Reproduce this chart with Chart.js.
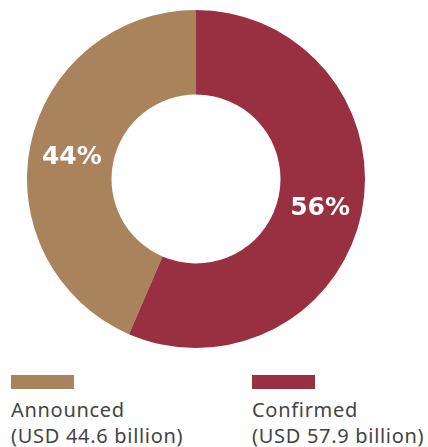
<!DOCTYPE html>
<html>
<head>
<meta charset="utf-8">
<script src="https://cdn.jsdelivr.net/npm/chart.js@4"></script>
<style>
  body { margin: 0; background: #fff; width: 428px; height: 447px; position: relative; overflow: hidden; }
  #wrap { position: absolute; left: 27px; top: 10px; width: 338px; height: 338px; }
  .legend { position: absolute; top: 375px; font-family: "Noto Sans", sans-serif; font-size: 20px; letter-spacing: 0.7px; color: #444; line-height: 26px; white-space: nowrap; }
  .legend .sw { width: 63px; height: 14px; margin-bottom: 8px; }
</style>
</head>
<body>
<div id="wrap"><canvas id="myChart"></canvas></div>
<div id="legend"></div>
<script>
const labels = ['Announced', 'Confirmed'];
const amounts = [44.6, 57.9];
const colors = ['#a8835b', '#993041'];
const legendX = [11, 252];

const ctx = document.getElementById('myChart');
const total = amounts.reduce(function(a, b) { return a + b; }, 0);

// legend drawn as html, two columns
const legend = document.getElementById('legend');
labels.forEach(function(name, i) {
    const d = document.createElement('div');
    d.className = 'legend';
    d.style.left = legendX[i] + 'px';
    d.innerHTML = '<div class="sw" style="background:' + colors[i] + '"></div>' +
        name + '<br>(USD ' + amounts[i] + ' billion)';
    legend.appendChild(d);
});

const percentLabels = {
    id: 'percentLabels',
    afterDatasetsDraw(chart) {
        const c = chart.ctx;
        const meta = chart.getDatasetMeta(0);
        c.save();
        c.fillStyle = '#fff';
        c.font = 'bold 25px "DejaVu Sans", sans-serif';
        c.textAlign = 'center';
        c.textBaseline = 'middle';
        meta.data.forEach(function(arc, i) {
            const p = arc.tooltipPosition();
            c.fillText(Math.round(amounts[i] / total * 100) + '%', p.x, p.y + 4);
        });
        c.restore();
    }
};

new Chart(ctx, {
    type: 'doughnut',
    data: {
        labels: labels,
        datasets: [{
            data: amounts,
            backgroundColor: colors,
            borderWidth: 0
        }]
    },
    options: {
        responsive: true,
        maintainAspectRatio: false,
        animation: false,
        cutout: '50%',
        rotation: -amounts[0] / total * 360,
        layout: { padding: 0 },
        plugins: {
            legend: { display: false },
            tooltip: { enabled: false }
        }
    },
    plugins: [percentLabels]
});
</script>
</body>
</html>
